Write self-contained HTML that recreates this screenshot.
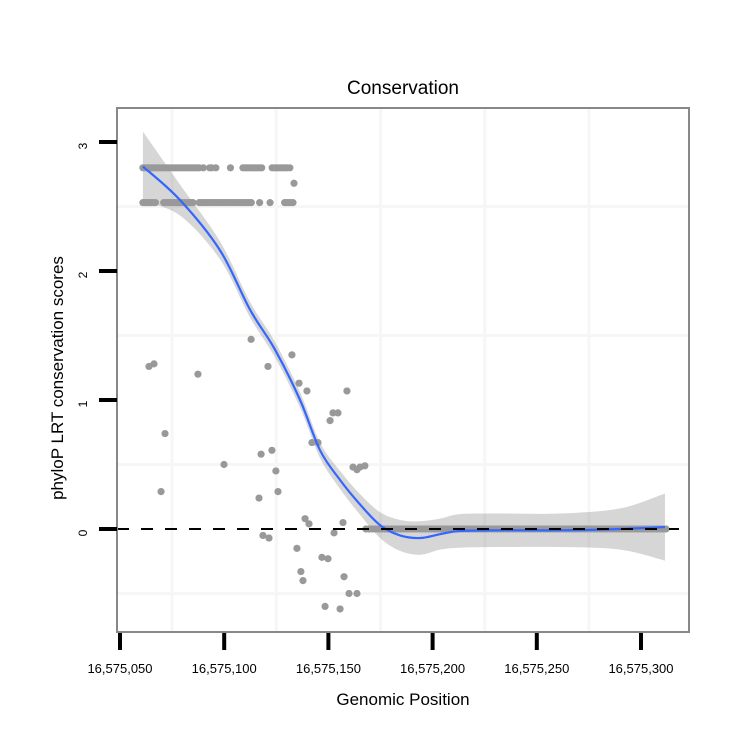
<!DOCTYPE html>
<html><head><meta charset="utf-8"><style>
html,body{margin:0;padding:0;background:#fff;}
svg{display:block;font-family:"Liberation Sans",sans-serif;}
</style></head><body>
<svg id="chart" width="750" height="750" viewBox="0 0 750 750">
<rect x="0" y="0" width="750" height="750" fill="#fff"/>
<g id="grid"></g>
<g id="pts"></g>
<g id="smooth"></g>
<line x1="117" y1="529" x2="679" y2="529" stroke="#000" stroke-width="2" stroke-dasharray="12,12"/>
<rect x="117" y="108" width="572" height="524" fill="none" stroke="#888" stroke-width="2"/>
<g id="axes"></g>
<text x="403" y="94" font-size="19" text-anchor="middle">Conservation</text>
<text x="403" y="705" font-size="17" text-anchor="middle">Genomic Position</text>
<text transform="translate(63,378) rotate(-90)" font-size="17" text-anchor="middle">phyloP LRT conservation scores</text>
</svg>
<script>
// x values are offsets from 16,575,000
const xTicks = [50,100,150,200,250,300];
const xTickLabels = ["16,575,050","16,575,100","16,575,150","16,575,200","16,575,250","16,575,300"];
const yTicks = [0,1,2,3];
const yTickLabels = ["0","1","2","3"];
const topRowX = [61,62,63,64,65,66,67,68,69,70,71,72,73,74,75,76,77,78,79,80,81,82,83,84,85,86,87,88,90,93,94,96,103,109,110,111,112,113,114,115,116,117,118,123,124,125,126,127,128,129,130,131.5];
const topRowY = 2.8;
const secondRowX = [61,62,63,64,65,66,67,71,72,73,74,75,76,77,78,79,80,81,82,83,84,85,88,89,90,91,92,93,94,95,96,97,98,99,100,101,102,103,104,105,106,107,108,109,110,111,112,113,117,122,129,130,131,132,133];
const secondRowY = 2.53;
const otherX = [133.5,63.9,66.3,87.4,71.6,69.7,99.9,112.9,121.0,132.5,135.9,139.7,158.9,152.2,154.6,150.8,142.1,145.0,161.8,165.2,163.7,167.5,117.7,122.9,124.8,125.8,116.7,138.8,140.7,157.0,152.7,118.6,121.5,134.9,146.9,149.8,136.8,137.8,157.5,159.9,163.7,148.4,155.6];
const otherY = [2.68,1.26,1.28,1.20,0.74,0.29,0.50,1.47,1.26,1.35,1.13,1.07,1.07,0.90,0.90,0.84,0.67,0.67,0.48,0.48,0.46,0.49,0.58,0.61,0.45,0.29,0.24,0.08,0.04,0.05,-0.03,-0.05,-0.07,-0.15,-0.22,-0.23,-0.33,-0.40,-0.37,-0.50,-0.50,-0.60,-0.62];
const zeroRowX = [168,169.5,171,172.5,174,175.5,177,178.5,180,181.5,183,184.5,186,187.5,189,190.5,192,193.5,195,196.5,198,199.5,201,202.5,204,205.5,207,208.5,210,211.5,213,214.5,216,217.5,219,220.5,222,223.5,225,226.5,228,229.5,231,232.5,234,235.5,237,238.5,240,241.5,243,244.5,246,247.5,249,250.5,252,253.5,255,256.5,258,259.5,261,262.5,264,265.5,267,268.5,270,271.5,273,274.5,276,277.5,279,280.5,282,283.5,285,286.5,288,289.5,291,292.5,294,295.5,297,298.5,300,301.5,303,304.5,306,307.5,309,310.5,312];
const zeroRowY = 0;
const fitX = [61,78.8,98,112.4,124.4,136.4,146,155.6,165.2,174.8,184.4,194,203.6,213.2,232.3,261,290,311.5];
const fitY = [2.81,2.55,2.16,1.70,1.39,1.0,0.61,0.38,0.19,0.03,-0.05,-0.07,-0.04,-0.015,-0.01,-0.01,0.0,0.015];
const fitSE = [0.27,0.12,0.07,0.06,0.06,0.06,0.06,0.07,0.08,0.10,0.12,0.13,0.12,0.13,0.13,0.13,0.16,0.26];

const NS="http://www.w3.org/2000/svg";
const xs = v => 120 + (v-50)*(104.2/50);
const ys = v => 529 - v*129;
function mk(tag, attrs, parent){const e=document.createElementNS(NS,tag);for(const k in attrs)e.setAttribute(k,attrs[k]);parent.appendChild(e);return e;}

const grid=document.getElementById('grid');
[75,125,175,225,275].forEach(v=>{
  const l=mk('line',{x1:xs(v),x2:xs(v),y1:109,y2:631,stroke:'#f6f6f6','stroke-width':3},grid);
  
  
});
[-0.5,0.5,1.5,2.5].forEach(v=>{
  const l=mk('line',{x1:118,x2:688,y1:ys(v),y2:ys(v),stroke:'#f6f6f6','stroke-width':3},grid);
  
  
});

const pts=document.getElementById('pts');
function dot(x,y){
  const c=mk('circle',{cx:xs(x),cy:ys(y),r:3.6,fill:'#999'},pts);
  
  
}
topRowX.forEach(x=>dot(x,topRowY));
secondRowX.forEach(x=>dot(x,secondRowY));
otherX.forEach((x,i)=>dot(x,otherY[i]));
zeroRowX.forEach(x=>dot(x,zeroRowY));

function pathFrom(P){
  let d=`M${P[0][0]},${P[0][1]}`;
  for(let i=0;i<P.length-1;i++){
    const p0=P[Math.max(0,i-1)],p1=P[i],p2=P[i+1],p3=P[Math.min(P.length-1,i+2)];
    const c1=[p1[0]+(p2[0]-p0[0])/6,p1[1]+(p2[1]-p0[1])/6];
    const c2=[p2[0]-(p3[0]-p1[0])/6,p2[1]-(p3[1]-p1[1])/6];
    d+=` C${c1[0]},${c1[1]} ${c2[0]},${c2[1]} ${p2[0]},${p2[1]}`;
  }
  return d;
}
const sm=document.getElementById('smooth');
const up=fitX.map((x,i)=>[xs(x),ys(fitY[i]+fitSE[i])]);
const lo=fitX.map((x,i)=>[xs(x),ys(fitY[i]-fitSE[i])]).reverse();
const bandD=pathFrom(up)+' L'+pathFrom(lo).slice(1)+' Z';
const band=mk('path',{d:bandD,fill:'#999','fill-opacity':0.4,stroke:'none'},sm);


const line=mk('path',{d:pathFrom(fitX.map((x,i)=>[xs(x),ys(fitY[i])])),fill:'none',stroke:'#3366FF','stroke-width':2.2},sm);



const axes=document.getElementById('axes');
xTicks.forEach((v,i)=>{
  const t=mk('line',{x1:xs(v),x2:xs(v),y1:633,y2:650,stroke:'#000','stroke-width':4},axes);
  
  
  const l=mk('text',{x:xs(v),y:673,'font-size':13,'text-anchor':'middle'},axes);
  l.textContent=xTickLabels[i];
  
  
});
yTicks.forEach((v,i)=>{
  const t=mk('line',{x1:99,x2:117,y1:ys(v),y2:ys(v),stroke:'#000','stroke-width':4},axes);
  
  
  const l=mk('text',{transform:`translate(87,${ys(v)+4}) rotate(-90)`,'font-size':12,'text-anchor':'middle'},axes);
  l.textContent=yTickLabels[i];
  
  
});
</script>
</body></html>
